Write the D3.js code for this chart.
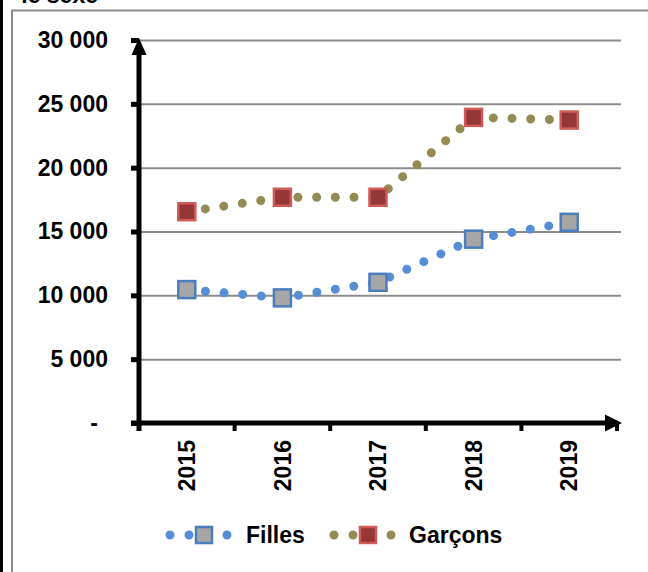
<!DOCTYPE html>
<html>
<head>
<meta charset="utf-8">
<script src="https://cdn.jsdelivr.net/npm/d3@7/dist/d3.min.js"></script>
<style>
  html, body { margin: 0; padding: 0; background: #fff; }
  svg { display: block; font-family: "Liberation Sans", Arial, sans-serif; font-weight: bold; }
</style>
</head>
<body>
<svg id="chart" width="648" height="572"></svg>
<script>
// ---- data ----
const years = ["2015", "2016", "2017", "2018", "2019"];
const filles = [10450, 9800, 11020, 14400, 15720];
const garcons = [16550, 17680, 17680, 23940, 23730];
const yTicks = [0, 5000, 10000, 15000, 20000, 25000, 30000];
const seriesNames = ["Filles", "Garçons"];

// ---- layout ----
const W = 648, H = 572;
const plot = { left: 139, right: 617, top: 40, bottom: 423 };
const svg = d3.select("#chart");

const x = d3.scaleBand().domain(years).range([plot.left, plot.right]).padding(0);
const xc = d => x(d) + x.bandwidth() / 2;
const y = d3.scaleLinear().domain([0, 30000]).range([plot.bottom, plot.top]);

const locale = d3.formatLocale({ decimal: ",", thousands: " ", grouping: [3], currency: ["", ""] });
const fmt = locale.format(",d");

// ---- frame ----
svg.append("rect").attr("x", 0).attr("y", 0).attr("width", W).attr("height", H).attr("fill", "#fff");
svg.append("text").attr("x", 98).attr("y", 3).attr("text-anchor", "end")
  .attr("font-size", 23).attr("fill", "#000").text("le sexe");
svg.append("line").attr("x1", 1.5).attr("x2", 1.5).attr("y1", 0).attr("y2", H)
  .attr("stroke", "#000").attr("stroke-width", 3);
svg.append("path").attr("d", `M12,${H} V10.5 H${W}`)
  .attr("fill", "none").attr("stroke", "#8c8c8c").attr("stroke-width", 2);

// ---- gridlines ----
const grid = svg.append("g").attr("transform", `translate(${plot.left},0)`)
  .call(d3.axisRight(y).tickValues(yTicks.filter(v => v > 0)).tickSize(621 - plot.left).tickFormat(""));
grid.select(".domain").remove();
grid.selectAll(".tick line").attr("stroke", "#8c8c8c").attr("stroke-width", 2);

// ---- y axis ----
const yAxis = svg.append("g").attr("transform", `translate(${plot.left},0)`)
  .call(d3.axisLeft(y).tickValues(yTicks).tickSize(8).tickPadding(23)
    .tickFormat(v => v === 0 ? "-" : fmt(v)));
yAxis.select(".domain").remove();
yAxis.selectAll(".tick line").attr("stroke", "#000").attr("stroke-width", 5);
yAxis.selectAll(".tick text").attr("font-size", 23).attr("fill", "#000")
  .attr("font-family", "Liberation Sans, Arial, sans-serif").attr("font-weight", "bold")
  .attr("dx", v => v === 0 ? -10 : 0);

// axis lines with arrowheads
svg.append("line").attr("x1", plot.left).attr("x2", plot.left)
  .attr("y1", plot.bottom + 8).attr("y2", plot.top + 12)
  .attr("stroke", "#000").attr("stroke-width", 5);
svg.append("path").attr("d", `M${plot.left},${plot.top - 2} L${plot.left + 7.5},${plot.top + 15} L${plot.left - 7.5},${plot.top + 15} Z`)
  .attr("fill", "#000");
svg.append("line").attr("x1", plot.left - 8).attr("x2", plot.right - 6)
  .attr("y1", plot.bottom).attr("y2", plot.bottom)
  .attr("stroke", "#000").attr("stroke-width", 5);
svg.append("path").attr("d", `M${plot.right + 5},${plot.bottom} L${plot.right - 12},${plot.bottom - 8.5} L${plot.right - 12},${plot.bottom + 8.5} Z`)
  .attr("fill", "#000");

// x ticks at category boundaries
const bounds = years.map(d => x(d)).concat([x.range()[1]]);
svg.append("g").selectAll("line").data(bounds).join("line")
  .attr("x1", d => d).attr("x2", d => d)
  .attr("y1", plot.bottom).attr("y2", plot.bottom + 8)
  .attr("stroke", "#000").attr("stroke-width", 4);

// x labels rotated
svg.append("g").selectAll("text").data(years).join("text")
  .attr("transform", d => `translate(${xc(d)},440) rotate(-90)`)
  .attr("text-anchor", "end").attr("dy", "0.36em")
  .attr("font-size", 23).attr("fill", "#000").text(d => d);

// ---- series ----
const seriesDefs = [
  { name: seriesNames[0], values: filles, line: "#558ed5", fill: "#a6a6a6", stroke: "#4a7ebb" },
  { name: seriesNames[1], values: garcons, line: "#948a54", fill: "#953735", stroke: "#cf5b58" }
];
const lineGen = d3.line().x((d, i) => xc(years[i])).y(d => y(d)).curve(d3.curveLinear);

seriesDefs.forEach(s => {
  svg.append("path").datum(s.values).attr("d", lineGen)
    .attr("fill", "none").attr("stroke", s.line).attr("stroke-width", 9)
    .attr("stroke-linecap", "round").attr("stroke-linejoin", "round")
    .attr("stroke-dasharray", "0 18.7");
});
seriesDefs.forEach(s => {
  const ms = 17;
  svg.append("g").selectAll("rect").data(s.values).join("rect")
    .attr("x", (d, i) => xc(years[i]) - ms / 2).attr("y", d => y(d) - ms / 2)
    .attr("width", ms).attr("height", ms)
    .attr("fill", s.fill).attr("stroke", s.stroke).attr("stroke-width", 2.5);
});

// ---- legend ----
const legendPos = [
  { x1: 170, x2: 228, mx: 204, tx: 246 },
  { x1: 334, x2: 393, mx: 368, tx: 409 }
];
const ly = 535;
seriesDefs.forEach((s, i) => {
  const p = legendPos[i];
  svg.append("line").attr("x1", p.x1).attr("x2", p.x2).attr("y1", ly).attr("y2", ly)
    .attr("stroke", s.line).attr("stroke-width", 9).attr("stroke-linecap", "round")
    .attr("stroke-dasharray", "0 19");
  svg.append("rect").attr("x", p.mx - 8).attr("y", ly - 8).attr("width", 16).attr("height", 16)
    .attr("fill", s.fill).attr("stroke", s.stroke).attr("stroke-width", 2.5);
  svg.append("text").attr("x", p.tx).attr("y", ly + 8).attr("font-size", 23)
    .attr("fill", "#000").text(s.name);
});
</script>
</body>
</html>
